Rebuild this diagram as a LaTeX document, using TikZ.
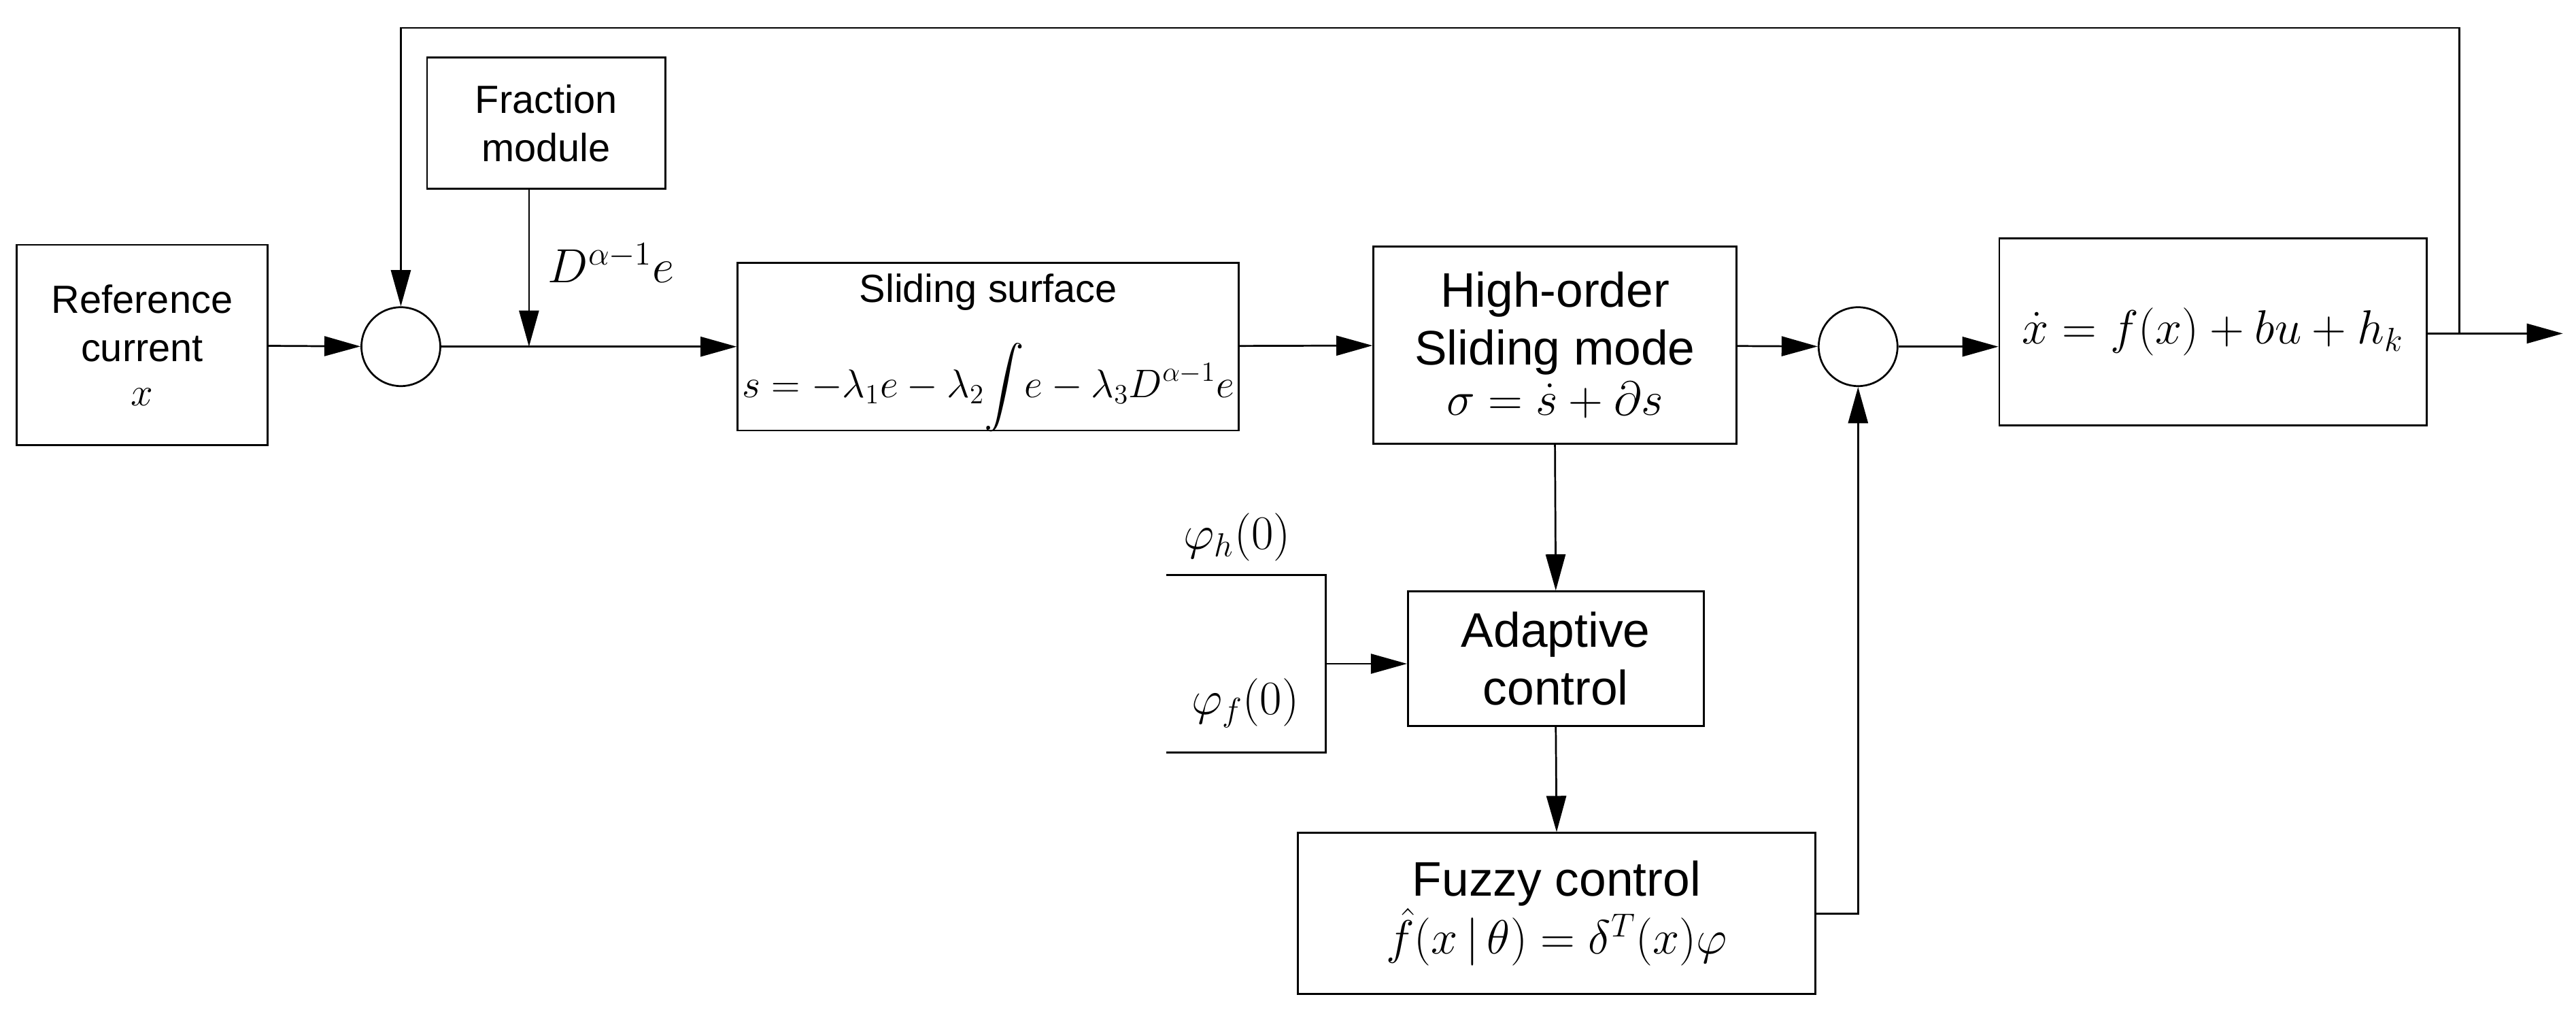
\documentclass[tikz,border=0pt]{standalone}
\usepackage{amsmath}
\usepackage{fontspec}
\setmainfont{Liberation Sans}
\usetikzlibrary{arrows.meta}
\begin{document}
\begin{tikzpicture}[x=0.025cm,y=-0.025cm,
  blk/.style={draw,line width=0.8pt,inner sep=0pt},
  sum/.style={draw,circle,line width=0.8pt,minimum size=1.2cm,inner sep=0pt},
  ar/.style={-{Triangle[length=0.55cm,width=0.3cm]},line width=0.8pt},
  ln/.style={line width=0.8pt},
  txt/.style={font=\fontsize{17}{21}\selectfont,align=center},
  big/.style={font=\fontsize{21}{25}\selectfont,align=center}]
\useasboundingbox (0,0) rectangle (1568,617);
\node[blk,minimum width=153*0.025cm,minimum height=122*0.025cm,txt] (ref) at (86.5,210) {Reference\\current\\[-2pt]$\large x$};
\node[sum] (s1) at (244,211) {};
\node[blk,minimum width=145*0.025cm,minimum height=80*0.025cm,txt] (frac) at (332.5,75) {Fraction\\module};
\coordinate (j) at (322,211);
\node[blk,minimum width=305*0.025cm,minimum height=102*0.025cm] (slide) at (601.5,211) {};
\node[txt] (slt) at (601.5,178) {Sliding surface};
\node[font=\fontsize{17}{20}\selectfont] (slf) at (601.5,236) {$s=-\lambda_1 e-\lambda_2\!\displaystyle\int\! e-\lambda_3 D^{\alpha-1}e$};
\node[blk,minimum width=221*0.025cm,minimum height=120*0.025cm,big] (ho) at (946.5,210) {High-order\\Sliding mode\\[-3pt]$\sigma=\dot s+\partial s$};
\node[sum] (s2) at (1131,211) {};
\node[blk,minimum width=260*0.025cm,minimum height=114*0.025cm,font=\fontsize{21}{25}\selectfont] (plant) at (1347,202) {$\dot x=f(x)+bu+h_k$};
\coordinate (out) at (1560,203);
\coordinate (fb) at (1497,203);
\node[blk,minimum width=180*0.025cm,minimum height=82*0.025cm,big] (ad) at (947,401) {Adaptive\\control};
\node[blk,minimum width=315*0.025cm,minimum height=98*0.025cm,big] (fz) at (947.5,556) {Fuzzy control\\$\hat f(x\,|\,\theta)=\delta^T(x)\varphi$};
\node[font=\fontsize{21}{25}\selectfont] (ph) at (753,327) {$\varphi_h(0)$};
\node[font=\fontsize{21}{25}\selectfont] (pf) at (758,428) {$\varphi_f(0)$};
\node[font=\fontsize{21}{25}\selectfont] (dl) at (372,160) {$D^{\alpha-1}e$};
\draw[ar] (ref) -- (s1);
\draw[ln] (s1) -- (j);
\draw[ar] (frac.south -| j) -- (j);
\draw[ar] (j) -- (slide);
\draw[ar] (slide) -- (ho);
\draw[ar] (ho) -- (s2);
\draw[ar] (s2) -- (plant.west |- s2);
\draw[ar] (plant.east |- out) -- (out);
\draw[ar] (fb) -- (1497,17) -- (244,17) -- (s1.north);
\draw[ar] (ho.south) -- (ad.north);
\draw[ar] (ad.south) -- (fz.north);
\draw[ln] (710,350) -- (807,350) -- (807,458) -- (710,458);
\draw[ar] (807,404) -- (ad.west |- 807,404);
\draw[ar] (fz.east) -- (s2 |- fz.east) -- (s2.south);
\end{tikzpicture}
\end{document}
